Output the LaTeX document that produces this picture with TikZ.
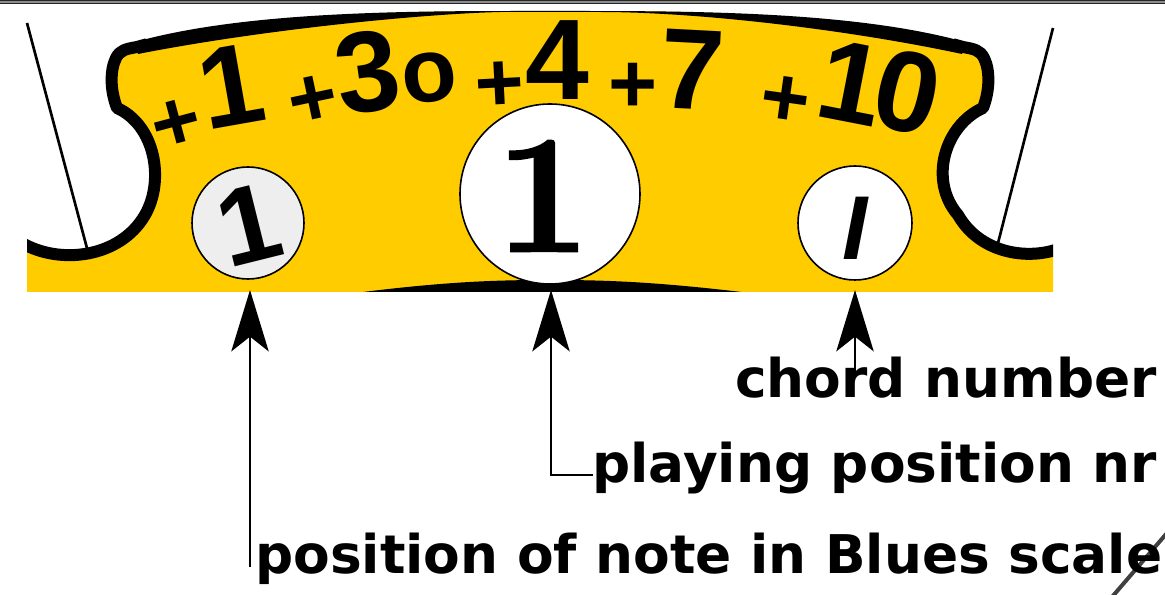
\documentclass[tikz,border=0pt]{standalone}
\usepackage{fontspec}
\newfontfamily\lib{Liberation Sans}
\newfontfamily\dvs{DejaVu Sans}
\newfontfamily\lmheavy{Latin Modern Roman}[BoldFeatures={FakeBold=1.6}]
\usetikzlibrary{arrows.meta}
\definecolor{bridge}{HTML}{FFCC00}
\definecolor{ltgray}{HTML}{EEEEEE}
\begin{document}
\begin{tikzpicture}[x=0.75pt,y=-0.75pt,
  digit/.style={inner sep=0pt, font=\lib\bfseries\fontsize{86}{86}\selectfont},
  plus/.style={inner sep=0pt, font=\lib\bfseries\fontsize{63}{63}\selectfont},
  disc/.style={circle, draw=black, line width=1.2pt, inner sep=0pt},
  lbl/.style={inner sep=0pt, anchor=base west, font=\dvs\bfseries\fontsize{40}{48}\selectfont},
  arr/.style={line width=2pt, -{Stealth[length=46pt,width=28pt,inset=11pt]}},
  outline/.style={line width=9pt, black, line join=round},
  thinline/.style={line width=2pt, black}]
\useasboundingbox (0,0) rectangle (1165,595);
% top border
\fill[black!45] (0,0) rectangle (1165,4);
\draw[black!85, line width=0.8pt] (0,0.6) -- (1165,0.6);
\draw[black!85, line width=0.8pt] (0,3.2) -- (1165,3.2);
% thin lines
\draw[thinline] (27,23) -- (88,252);
\draw[thinline] (1053,28) -- (997,247);
\begin{scope}
\clip (27,0) rectangle (1053,292);
\fill[bridge] (22,243) .. controls (60,265) and (120,258) .. (145,215)
  .. controls (165,180) and (155,125) .. (117,108)
  .. controls (110,90) and (110,70) .. (116,58)
  .. controls (120,50) and (126,49) .. (137,47)
  .. controls (250,10) and (420,11) .. (550,11)
  .. controls (680,11) and (850,10) .. (963,47)
  .. controls (974,49) and (980,50) .. (984,58)
  .. controls (990,70) and (990,90) .. (983,108)
  .. controls (945,125) and (928,180) .. (958,215)
  .. controls (985,262) and (1050,262) .. (1078,238)
  -- (1078,300) -- (22,300) -- cycle;
% top band
\fill[black] (135,42) .. controls (250,10) and (420,11) .. (550,11)
  .. controls (680,11) and (850,10) .. (965,42)
  -- (962,54) .. controls (850,30) and (700,12) .. (600,12)
  -- (500,12) .. controls (420,14) and (260,30) .. (138,54) -- cycle;
% side strokes
\draw[outline] (22,243) .. controls (60,265) and (120,258) .. (145,215)
  .. controls (165,180) and (155,125) .. (117,108)
  .. controls (110,90) and (110,70) .. (116,58)
  .. controls (120,50) and (126,49) .. (137,47) -- (147,44.2);
\draw[outline] (1078,238) .. controls (1050,262) and (985,262) .. (958,215)
  .. controls (928,180) and (945,125) .. (983,108)
  .. controls (990,90) and (990,70) .. (984,58)
  .. controls (980,50) and (974,49) .. (963,47) -- (953,44.2);
% bottom lens
\fill[black] (355,293) .. controls (450,281) and (500,280) .. (550,280)
  .. controls (600,280) and (650,281) .. (750,293) -- cycle;
\end{scope}
% top labels
\node[plus, rotate=15] (p1) at (177,125) {+};
\node[digit, rotate=10] (d1) at (231,86) {1};
\node[plus, rotate=12] (p2) at (313,101) {+};
\node[digit, rotate=8] (d3) at (368,72) {3};
\node[inner sep=0pt, font=\lib\bfseries\fontsize{68}{68}\selectfont, rotate=6] (o3) at (430,78) {o};
\node[plus, rotate=3] (p3) at (500,87) {+};
\node[digit] (d4) at (557,60) {4};
\node[plus] (p4) at (633,88) {+};
\node[digit, rotate=-3] (d7) at (692,70) {7};
\node[plus, rotate=-8] (p5) at (785,102) {+};
\node[digit, rotate=-11] (d10) at (851,83) {1};
\node[digit, rotate=-13] (d0) at (907,92) {0};
% circles
\node[disc, fill=ltgray, minimum size=84pt] (cL) at (248,223) {};
\node[disc, fill=white, minimum size=135pt] (cM) at (550,194) {};
\node[disc, fill=white, minimum size=85.5pt] (cR) at (855,223) {};
\node[inner sep=0pt, font=\lib\bfseries\fontsize{82}{82}\selectfont, rotate=14] (nL) at (249,225) {1};
\node[inner sep=0pt, font=\lmheavy\bfseries\fontsize{126}{126}\selectfont] (nM) at (543,196) {1};
\node[inner sep=0pt, font=\lib\bfseries\itshape\fontsize{68}{68}\selectfont] (nR) at (855,228) {I};
% corner line
\draw[black!75, line width=3pt] (1112,597) -- (1167,533);
% bottom labels
\node[lbl] (chord) at (735,398) {chord number};
\node[lbl] (play) at (592,483) {playing position nr};
\node[lbl] (posn) at (255,573) {position of note in Blues scale};
% arrows
\coordinate (tL) at (250,290);
\coordinate (tM) at (551,290);
\coordinate (tR) at (855,290);
\coordinate (sL) at (250,567);
\coordinate (sM) at (593,475);
\coordinate (sR) at (855,377);
\draw[arr] (sL) -- (tL);
\draw[arr] (sM) -| (tM);
\draw[arr] (sR) -- (tR);
\end{tikzpicture}
\end{document}
